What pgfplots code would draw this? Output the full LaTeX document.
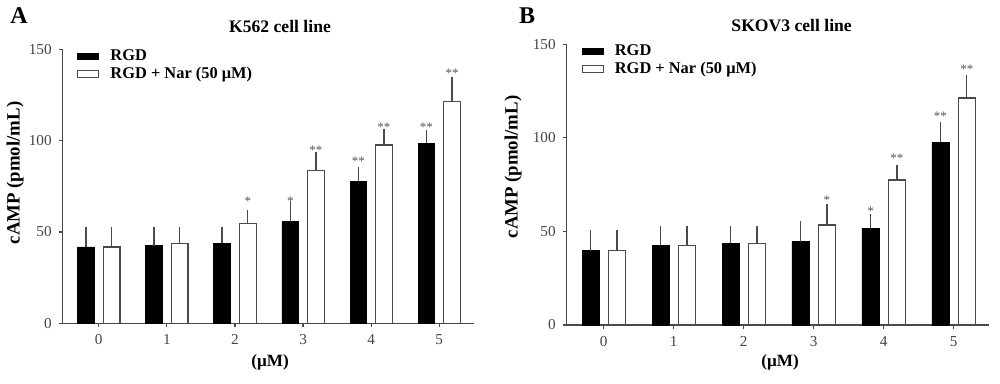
\documentclass[border=0pt]{standalone}
\usepackage{pgfplots}
\pgfplotsset{compat=1.18}
\usepackage{pgfplotstable}
\usepackage{fontspec}
\setmainfont{Liberation Serif}
\definecolor{axgray}{HTML}{4A4A4A}
\definecolor{tickgray}{HTML}{444444}
\definecolor{stargray}{HTML}{555555}

\pgfplotstableread{
x black berr white werr
0 41.8 9.1 41.8 9.1
1 42.5 8.5 43.8 7.2
2 43.8 7.2 54.7 5.3
3 55.7 9.1 83.6 8.2
4 77.6 6.2 97.6 7.0
5 98.5 5.1 121.5 11.2
}\dataA
\pgfplotstableread{
x black berr white werr
0 39.7 8.9 39.7 8.9
1 42.6 8.2 42.6 8.2
2 43.6 7.2 43.6 7.2
3 44.5 9.1 53.4 9.3
4 51.5 6.0 77.5 6.1
5 97.6 8.9 121.3 10.2
}\dataB

\tikzset{starlab/.style={font=\fontsize{6.5}{6.5}\selectfont, text=stargray, inner sep=0pt, yshift=-0.8pt}}

\pgfplotsset{
  panel/.style={
    scale only axis,
    axis lines*=left,
    axis line style={axgray, line width=0.6pt},
    ymin=0, ymax=150,
    xmin=-0.53, xmax=5.51,
    ytick={0,50,100,150},
    xtick={0,1,2,3,4,5},
    tick style={axgray, line width=0.6pt},
    major tick length=2pt,
    tick align=outside,
    ticklabel style={font=\fontsize{7.6}{8}\selectfont, text=tickgray},
    /pgf/number format/assume math mode=true,
    legend cell align=left,
    legend style={at={(0.035,1.015)}, anchor=north west, draw=none, fill=none,
      font=\bfseries\fontsize{8.2}{8.2}\selectfont, inner sep=0pt, row sep=-2.2pt,
      /tikz/every odd column/.append style={column sep=3.5pt}},
    legend image code/.code={\draw[##1, line width=0.5pt] (0pt,-1.7pt) rectangle (10.5pt,1.7pt);},
    clip=false,
  },
  blackbar/.style={ybar, bar width=0.245, bar shift=0pt, fill=black, draw=black, line width=0.4pt,
    error bars/.cd, y dir=plus, y explicit, error bar style={axgray, line width=0.7pt}, error mark options={mark size=1.8pt, axgray, line width=0.7pt}},
  whitebar/.style={ybar, bar width=0.245, bar shift=0pt, fill=white, draw=axgray, line width=0.6pt,
    error bars/.cd, y dir=plus, y explicit, error bar style={axgray, line width=0.7pt}, error mark options={mark size=1.8pt, axgray, line width=0.7pt}},
}

\begin{document}
\begin{tikzpicture}
\useasboundingbox (0,0) rectangle (500pt,192pt);

% Panel A
\begin{axis}[panel, at={(31.35pt,30.35pt)}, anchor=south west, width=205.65pt, height=137pt]
\addplot[blackbar] table[x expr=\thisrow{x}-0.188, y=black, y error=berr] {\dataA};
\addlegendentry{RGD}
\addplot[whitebar] table[x expr=\thisrow{x}+0.188, y=white, y error=werr] {\dataA};
\addlegendentry{RGD + Nar (50 μM)}
\node[starlab] at (axis cs:2.188,67.9) {*};
\node[starlab] at (axis cs:2.812,67.9) {*};
\node[starlab] at (axis cs:3.188,95.4) {**};
\node[starlab] at (axis cs:3.812,89.4) {**};
\node[starlab] at (axis cs:4.188,108.2) {**};
\node[starlab] at (axis cs:4.812,108.2) {**};
\node[starlab] at (axis cs:5.188,137.8) {**};
\end{axis}

% Panel B
\begin{axis}[panel, at={(283.35pt,29.5pt)}, anchor=south west, width=211.3pt, height=140.35pt]
\addplot[blackbar] table[x expr=\thisrow{x}-0.188, y=black, y error=berr] {\dataB};
\addlegendentry{RGD}
\addplot[whitebar] table[x expr=\thisrow{x}+0.188, y=white, y error=werr] {\dataB};
\addlegendentry{RGD + Nar (50 μM)}
\node[starlab] at (axis cs:3.188,67.3) {*};
\node[starlab] at (axis cs:3.812,61.8) {*};
\node[starlab] at (axis cs:4.188,90.0) {**};
\node[starlab] at (axis cs:4.812,112.2) {**};
\node[starlab] at (axis cs:5.188,137.5) {**};
\end{axis}

% Titles and labels
\node[font=\bfseries\fontsize{8.8}{9}\selectfont] at (140pt,179pt) {K562 cell line};
\node[font=\bfseries\fontsize{8.8}{9}\selectfont] at (395.8pt,179pt) {SKOV3 cell line};
\node[font=\bfseries\fontsize{12}{12}\selectfont] at (9.5pt,184pt) {A};
\node[font=\bfseries\fontsize{12}{12}\selectfont] at (263.5pt,184pt) {B};
\node[font=\bfseries\fontsize{9.4}{9.4}\selectfont, rotate=90] at (7.5pt,105.5pt) {cAMP (pmol/mL)};
\node[font=\bfseries\fontsize{9.4}{9.4}\selectfont, rotate=90] at (256.5pt,108.5pt) {cAMP (pmol/mL)};
\node[font=\bfseries\fontsize{8.6}{9}\selectfont] at (135pt,11pt) {(μM)};
\node[font=\bfseries\fontsize{8.6}{9}\selectfont] at (390pt,11pt) {(μM)};
\end{tikzpicture}
\end{document}
